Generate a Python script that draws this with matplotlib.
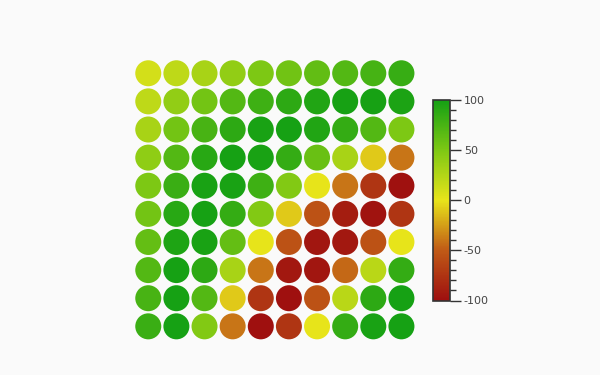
import matplotlib
matplotlib.use("Agg")
import matplotlib.pyplot as plt
import numpy as np
from matplotlib.colors import LinearSegmentedColormap, Normalize
from matplotlib.ticker import MultipleLocator

plt.rcParams["axes.unicode_minus"] = False

# values, row 0 = top row
row0 = [10, 20, 30, 40, 50, 56, 63, 70, 76, 83]
row1 = [20, 40, 55, 70, 80, 88, 93, 98, 98, 96]
row2 = [30, 55, 75, 88, 97, 99, 93, 85, 70, 50]
row3 = [42, 70, 90, 99, 97, 85, 60, 30, -10, -40]
row4 = [50, 82, 97, 97, 80, 48, 0, -40, -75, -98]
row5 = [55, 90, 99, 85, 48, -10, -55, -90, -97, -75]
row6 = [62, 95, 97, 62, 0, -55, -95, -93, -55, 0]
row7 = [70, 99, 88, 30, -40, -93, -95, -45, 22, 85]
row8 = [75, 99, 70, -10, -75, -99, -55, 22, 88, 99]
row9 = [82, 99, 48, -40, -99, -75, 0, 85, 97, 99]
rows = [row0, row1, row2, row3, row4, row5, row6, row7, row8, row9]

scale_colors = ["#9e0f0f", "#c05a16", "#e8e41a", "#7ec814", "#14a014"]
cmap = LinearSegmentedColormap.from_list("rg", scale_colors)
norm = Normalize(-100, 100)

bg = "#fafafa"
fig = plt.figure(figsize=(6, 3.75), dpi=100, facecolor=bg)

ax = fig.add_axes([134.2 / 600, 1 - 340.4 / 375, 281.3 / 600, 281.2 / 375])
ax.set_facecolor(bg)
vals = np.array(rows, dtype=float)
ny, nx = vals.shape
xx, yy = np.meshgrid(np.arange(nx), np.arange(ny))
diam_pt = 26 * 72 / 100
ax.scatter(xx.ravel(), yy.ravel(), c=vals.ravel(), cmap=cmap, norm=norm,
           s=diam_pt ** 2, linewidths=0)
ax.set_xlim(-0.5, nx - 0.5)
ax.set_ylim(ny - 0.5, -0.5)
ax.axis("off")

cax = fig.add_axes([433.3 / 600, 1 - 300.5 / 375, 16.5 / 600, 200.5 / 375])
cb = fig.colorbar(plt.cm.ScalarMappable(norm=norm, cmap=cmap), cax=cax)
cb.outline.set_edgecolor("#333333")
cb.outline.set_linewidth(1.2)
cb.set_ticks([-100, -50, 0, 50, 100])
cax.yaxis.set_minor_locator(MultipleLocator(10))
cax.tick_params(which="major", length=8, width=1, color="#333333",
                labelsize=8, labelcolor="#444444", pad=2)
cax.tick_params(which="minor", length=4, width=1, color="#333333")

fig.savefig("out.png", dpi=100, facecolor=bg)
